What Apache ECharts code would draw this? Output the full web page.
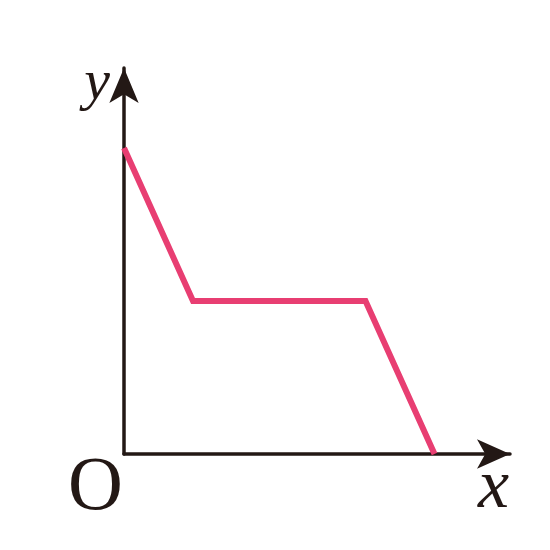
<!DOCTYPE html>
<html>
<head>
<meta charset="utf-8">
<script src="https://cdn.jsdelivr.net/npm/echarts@6/dist/echarts.min.js"></script>
<style>html,body{margin:0;padding:0;background:#fff;}#c{width:550px;height:550px;}</style>
</head>
<body>
<div id="c"></div>
<script>
const xValues = [0, 1, 3.5, 4.5];
const yValues = [4, 2, 2, 0];
const xName = 'x';
const yName = 'y';
const originLabel = 'O';

const chart = echarts.init(document.getElementById('c'));
const axisColor = '#231815';
chart.setOption({
  animation: false,
  grid: { left: 124, bottom: 96, right: 40, top: 68 },
  xAxis: {
    type: 'value', min: 0, max: 5.594,
    splitLine: { show: false }, axisTick: { show: false }, axisLabel: { show: false },
    axisLine: { show: true, onZero: false, symbol: ['none', 'arrow'], symbolSize: [22, 33],
      lineStyle: { color: axisColor, width: 3.5 } },
    name: xName, nameLocation: 'end', nameGap: -32,
    nameTextStyle: { fontFamily: 'Liberation Serif', fontStyle: 'italic', fontSize: 70, color: axisColor,
      verticalAlign: 'top', align: 'left', padding: [0, 0, 0, 0] }
  },
  yAxis: {
    type: 'value', min: 0, max: 5.046,
    splitLine: { show: false }, axisTick: { show: false }, axisLabel: { show: false },
    axisLine: { show: true, onZero: false, symbol: ['none', 'arrow'], symbolSize: [22, 35],
      lineStyle: { color: axisColor, width: 3.5 } },
    name: yName, nameLocation: 'end', nameGap: -45,
    nameTextStyle: { fontFamily: 'Liberation Serif', fontStyle: 'italic', fontSize: 58, color: axisColor,
      align: 'right', verticalAlign: 'bottom', padding: [0, 14, 0, 0] }
  },
  graphic: [{
    type: 'text', left: 68, top: 451,
    style: { text: originLabel, fontFamily: 'Liberation Serif', fontSize: 76, fill: axisColor }
  }],
  series: [{
    type: 'line',
    data: xValues.map((x, i) => [x, yValues[i]]),
    symbol: 'none',
    lineStyle: { color: '#e83e72', width: 6, join: 'miter' },
    z: 1
  }]
});
</script>
</body>
</html>
